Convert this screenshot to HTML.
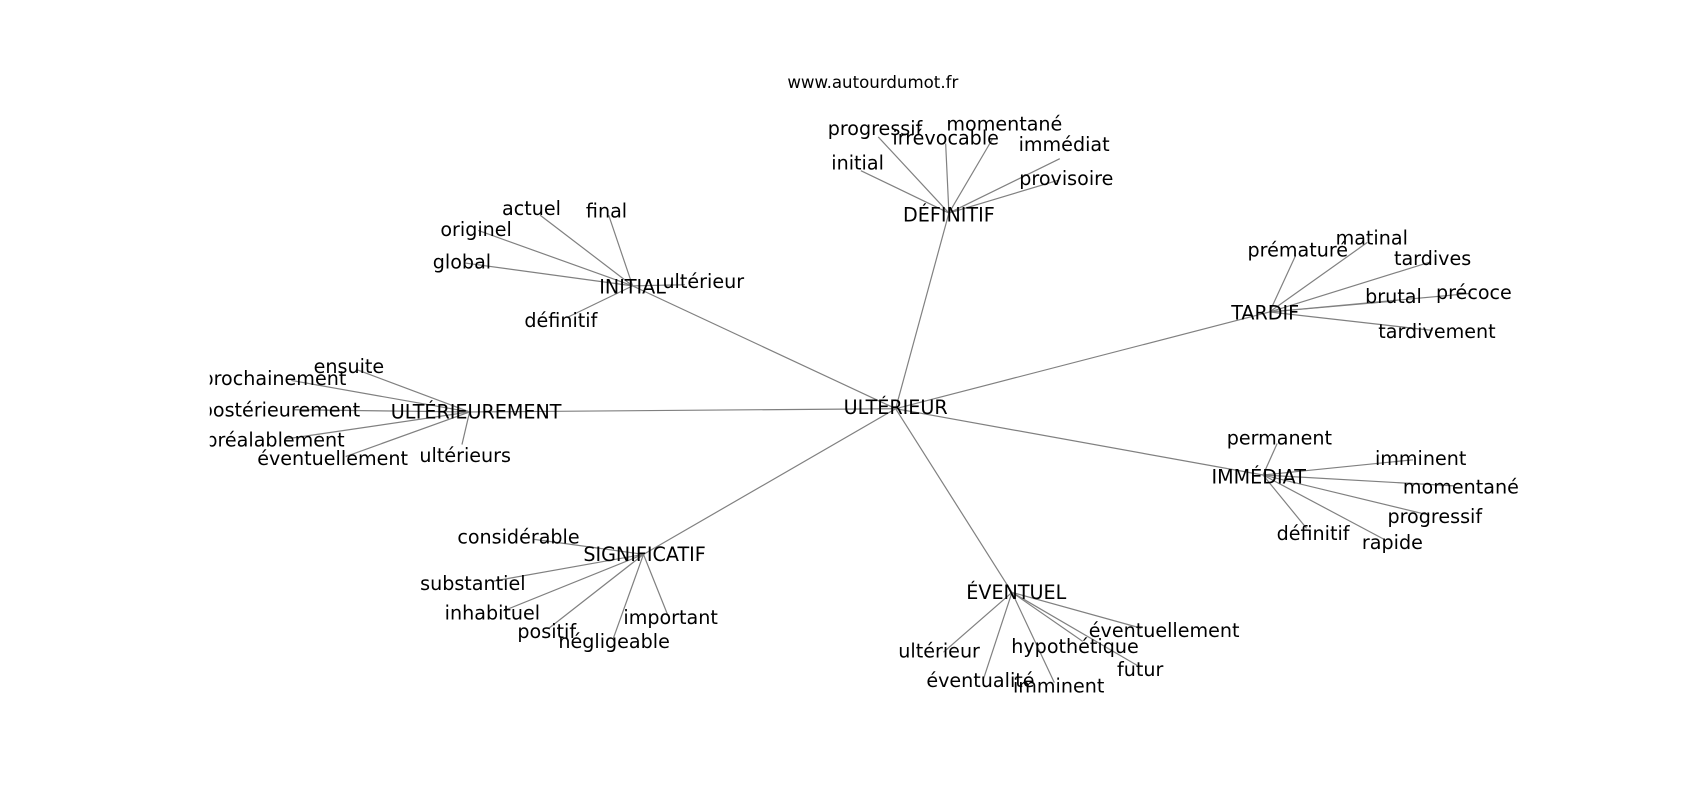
<!DOCTYPE html>
<html><head><meta charset="utf-8"><style>
html,body{margin:0;padding:0;background:#fff;width:1700px;height:800px;overflow:hidden}
svg{display:block}
text{font-family:"DejaVu Sans","Liberation Sans",sans-serif;font-size:17.6px;fill:#000;text-anchor:middle;dominant-baseline:central}
line{stroke:#808080;stroke-width:1.1}
</style></head><body>
<svg width="1700" height="800" viewBox="0 0 1564 736" xmlns="http://www.w3.org/2000/svg">
<defs><clipPath id="c"><rect x="193" y="0" width="1371" height="736"/></clipPath></defs>
<text x="803" y="76" style="font-size:15.3px">www.autourdumot.fr</text>
<g clip-path="url(#c)">
<g id="edges">
<line x1="824" y1="376" x2="873" y2="196"/>
<line x1="824" y1="376" x2="582" y2="263"/>
<line x1="824" y1="376" x2="1168" y2="287"/>
<line x1="824" y1="376" x2="432" y2="379"/>
<line x1="824" y1="376" x2="1162" y2="437"/>
<line x1="824" y1="376" x2="592" y2="510"/>
<line x1="824" y1="376" x2="931" y2="545"/>
<line x1="873" y1="196" x2="808" y2="126"/>
<line x1="873" y1="196" x2="870" y2="132"/>
<line x1="873" y1="196" x2="913" y2="128"/>
<line x1="873" y1="196" x2="975" y2="146"/>
<line x1="873" y1="196" x2="973" y2="166"/>
<line x1="873" y1="196" x2="792" y2="157"/>
<line x1="582" y1="263" x2="497" y2="198"/>
<line x1="582" y1="263" x2="560" y2="198"/>
<line x1="582" y1="263" x2="440" y2="212"/>
<line x1="582" y1="263" x2="428" y2="242"/>
<line x1="582" y1="263" x2="630" y2="262"/>
<line x1="582" y1="263" x2="522" y2="292"/>
<line x1="1168" y1="287" x2="1192" y2="235"/>
<line x1="1168" y1="287" x2="1258" y2="223"/>
<line x1="1168" y1="287" x2="1316" y2="241"/>
<line x1="1168" y1="287" x2="1283" y2="277"/>
<line x1="1168" y1="287" x2="1352" y2="270"/>
<line x1="1168" y1="287" x2="1318" y2="304"/>
<line x1="432" y1="379" x2="328" y2="340"/>
<line x1="432" y1="379" x2="268" y2="350"/>
<line x1="432" y1="379" x2="270" y2="377"/>
<line x1="432" y1="379" x2="262" y2="404"/>
<line x1="432" y1="379" x2="318" y2="420"/>
<line x1="432" y1="379" x2="425" y2="409"/>
<line x1="1162" y1="437" x2="1175" y2="408"/>
<line x1="1162" y1="437" x2="1300" y2="423"/>
<line x1="1162" y1="437" x2="1338" y2="447"/>
<line x1="1162" y1="437" x2="1315" y2="474"/>
<line x1="1162" y1="437" x2="1202" y2="486"/>
<line x1="1162" y1="437" x2="1273" y2="496"/>
<line x1="592" y1="510" x2="490" y2="496"/>
<line x1="592" y1="510" x2="452" y2="535"/>
<line x1="592" y1="510" x2="463" y2="562"/>
<line x1="592" y1="510" x2="505" y2="578"/>
<line x1="592" y1="510" x2="564" y2="588"/>
<line x1="592" y1="510" x2="614" y2="565"/>
<line x1="931" y1="545" x2="868" y2="600"/>
<line x1="931" y1="545" x2="905" y2="624"/>
<line x1="931" y1="545" x2="970" y2="628"/>
<line x1="931" y1="545" x2="996" y2="590"/>
<line x1="931" y1="545" x2="1050" y2="578"/>
<line x1="931" y1="545" x2="1046" y2="612"/>
</g>
<text x="824" y="375">ULTÉRIEUR</text>
<text x="873" y="198">DÉFINITIF</text>
<text x="805" y="118">progressif</text>
<text x="870" y="127">irrévocable</text>
<text x="924" y="114">momentané</text>
<text x="979" y="133">immédiat</text>
<text x="981" y="164">provisoire</text>
<text x="789" y="150">initial</text>
<text x="582" y="264">INITIAL</text>
<text x="489" y="192">actuel</text>
<text x="558" y="194">final</text>
<text x="438" y="211">originel</text>
<text x="425" y="241">global</text>
<text x="647" y="259">ultérieur</text>
<text x="516" y="295">définitif</text>
<text x="1164" y="288">TARDIF</text>
<text x="1194" y="230">prématuré</text>
<text x="1262" y="219">matinal</text>
<text x="1318" y="238">tardives</text>
<text x="1282" y="273">brutal</text>
<text x="1356" y="269">précoce</text>
<text x="1322" y="305">tardivement</text>
<text x="438" y="379">ULTÉRIEUREMENT</text>
<text x="321" y="337">ensuite</text>
<text x="252" y="348">prochainement</text>
<text x="258" y="377">postérieurement</text>
<text x="253" y="405">préalablement</text>
<text x="306" y="422">éventuellement</text>
<text x="428" y="419">ultérieurs</text>
<text x="1158" y="439">IMMÉDIAT</text>
<text x="1177" y="403">permanent</text>
<text x="1307" y="422">imminent</text>
<text x="1344" y="448">momentané</text>
<text x="1320" y="475">progressif</text>
<text x="1208" y="491">définitif</text>
<text x="1281" y="499">rapide</text>
<text x="593" y="510">SIGNIFICATIF</text>
<text x="477" y="494">considérable</text>
<text x="435" y="537">substantiel</text>
<text x="453" y="564">inhabituel</text>
<text x="503" y="581">positif</text>
<text x="565" y="590">négligeable</text>
<text x="617" y="568">important</text>
<text x="935" y="545">ÉVENTUEL</text>
<text x="864" y="599">ultérieur</text>
<text x="902" y="626">éventualité</text>
<text x="974" y="631">imminent</text>
<text x="989" y="595">hypothétique</text>
<text x="1071" y="580">éventuellement</text>
<text x="1049" y="616">futur</text>
</g>
</svg>
</body></html>
